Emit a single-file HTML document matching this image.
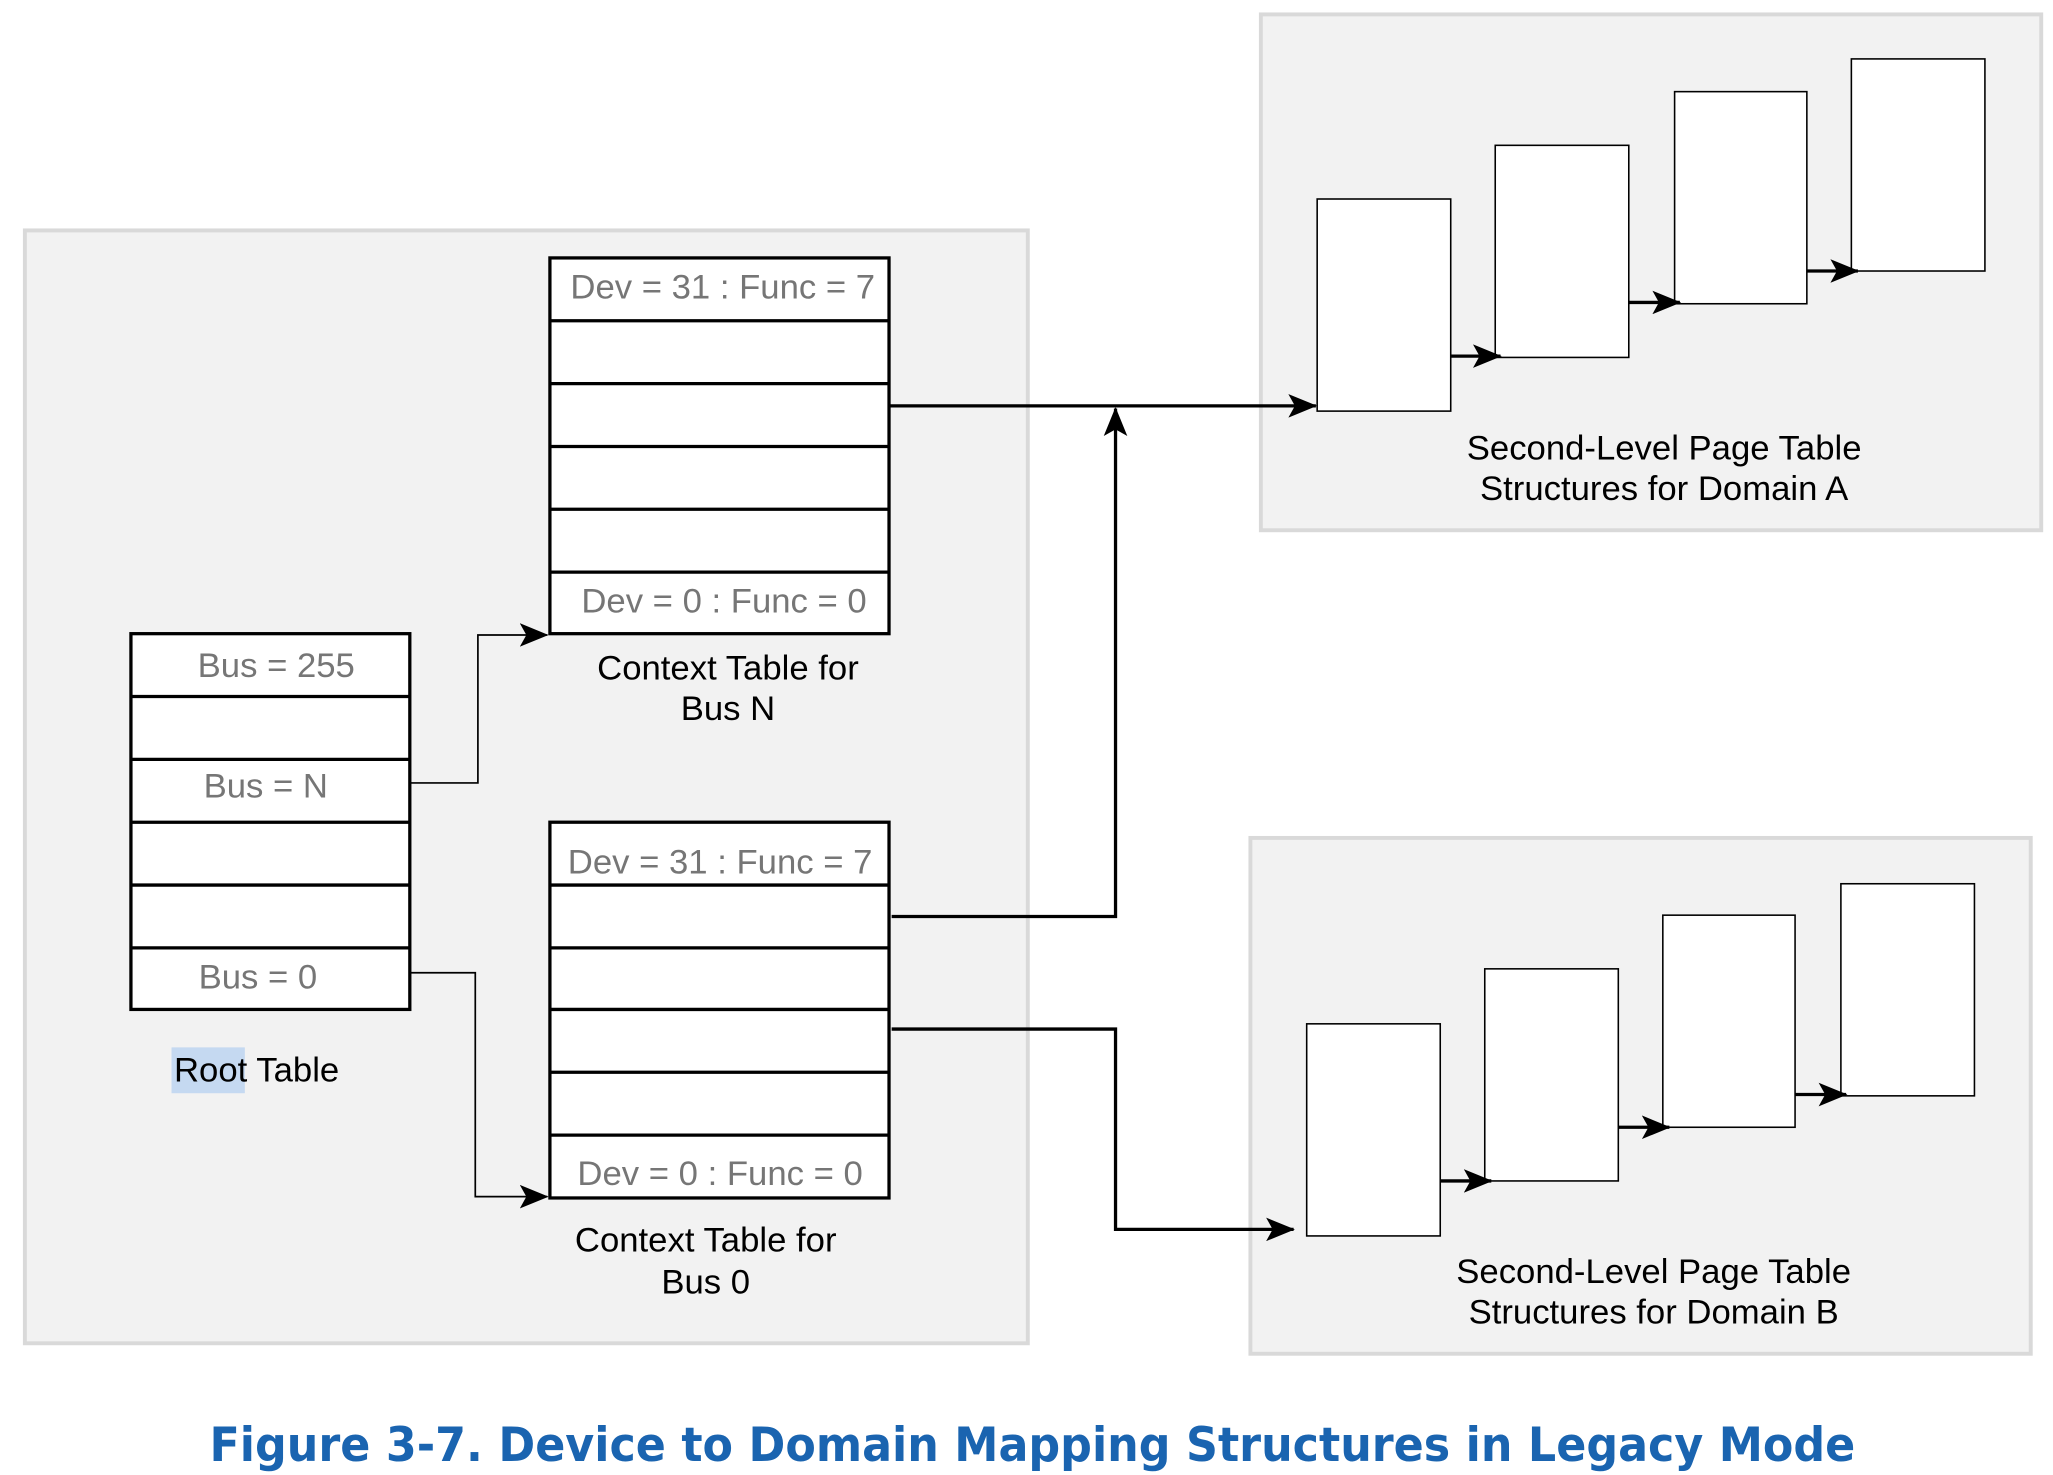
<!DOCTYPE html>
<html><head><meta charset="utf-8"><style>
html,body{margin:0;padding:0;background:#fff;}
svg{display:block;}
text{font-family:"Liberation Sans",sans-serif;}
</style></head><body>
<svg width="2053" height="1475" viewBox="0 0 1568 1126.6" preserveAspectRatio="none" xmlns="http://www.w3.org/2000/svg">
<defs>
<marker id="a2" markerWidth="22" markerHeight="18" refX="21" refY="9" orient="auto" markerUnits="userSpaceOnUse" viewBox="0 0 22 18">
<path d="M0,0 L22,9 L0,18 L5,9 z" fill="#000"/>
</marker>
</defs>
<rect x="0" y="0" width="1568" height="1127" fill="#fff"/>
<rect x="19" y="176" width="766" height="850" fill="#f2f2f2" stroke="#d9d9d9" stroke-width="3"/>
<rect x="963" y="11" width="596" height="394" fill="#f2f2f2" stroke="#d9d9d9" stroke-width="3"/>
<rect x="955" y="640" width="596" height="394" fill="#f2f2f2" stroke="#d9d9d9" stroke-width="3"/>

<g stroke="#000" stroke-width="2.5" fill="#fff">
<rect x="420" y="197" width="259" height="287"/>
<line x1="420" y1="245" x2="679" y2="245"/><line x1="420" y1="293" x2="679" y2="293"/>
<line x1="420" y1="341" x2="679" y2="341"/><line x1="420" y1="389" x2="679" y2="389"/>
<line x1="420" y1="437" x2="679" y2="437"/>
<rect x="420" y="628" width="259" height="287"/>
<line x1="420" y1="676" x2="679" y2="676"/><line x1="420" y1="724" x2="679" y2="724"/>
<line x1="420" y1="771" x2="679" y2="771"/><line x1="420" y1="819" x2="679" y2="819"/>
<line x1="420" y1="867" x2="679" y2="867"/>
<rect x="100" y="484" width="213" height="287"/>
<line x1="100" y1="532" x2="313" y2="532"/><line x1="100" y1="580" x2="313" y2="580"/>
<line x1="100" y1="628" x2="313" y2="628"/><line x1="100" y1="676" x2="313" y2="676"/>
<line x1="100" y1="724" x2="313" y2="724"/>
</g>
<g stroke="#000" stroke-width="1.2" fill="#fff">
<rect x="1006" y="152" width="102" height="162"/>
<rect x="1142" y="111" width="102" height="162"/>
<rect x="1279" y="70" width="101" height="162"/>
<rect x="1414" y="45" width="102" height="162"/>
<rect x="998" y="782" width="102" height="162"/>
<rect x="1134" y="740" width="102" height="162"/>
<rect x="1270" y="699" width="101" height="162"/>
<rect x="1406" y="675" width="102" height="162"/>
</g>
<g stroke="#000" fill="none">
<polyline stroke-width="1.3" points="313,598 365,598 365,485 418,485" marker-end="url(#a2)"/>
<polyline stroke-width="1.3" points="313,743 363,743 363,914 418,914" marker-end="url(#a2)"/>
<polyline stroke-width="2.5" points="679,310 1005,310" marker-end="url(#a2)"/>
<polyline stroke-width="2.5" points="681,700 852,700 852,312" marker-end="url(#a2)"/>
<polyline stroke-width="2.5" points="681,786 852,786 852,939 988,939" marker-end="url(#a2)"/>
<line stroke-width="2.5" x1="1108" y1="272" x2="1146" y2="272" marker-end="url(#a2)"/>
<line stroke-width="2.5" x1="1244" y1="231" x2="1283" y2="231" marker-end="url(#a2)"/>
<line stroke-width="2.5" x1="1380" y1="207" x2="1419" y2="207" marker-end="url(#a2)"/>
<line stroke-width="2.5" x1="1100" y1="902" x2="1139" y2="902" marker-end="url(#a2)"/>
<line stroke-width="2.5" x1="1236" y1="861" x2="1275" y2="861" marker-end="url(#a2)"/>
<line stroke-width="2.5" x1="1371" y1="836" x2="1410" y2="836" marker-end="url(#a2)"/>
</g>
<g fill="#767676" font-size="26.5" text-anchor="middle">
<text x="552" y="228">Dev = 31 : Func = 7</text>
<text x="553" y="468">Dev = 0 : Func = 0</text>
<text x="550" y="667">Dev = 31 : Func = 7</text>
<text x="550" y="905">Dev = 0 : Func = 0</text>
<text x="211" y="517">Bus = 255</text>
<text x="203" y="609">Bus = N</text>
<text x="197" y="755">Bus = 0</text>
</g>
<rect x="131" y="800" width="56" height="35" fill="#c5d9f1"/>
<g fill="#000" font-size="26.5" text-anchor="middle">
<text x="196" y="826">Root Table</text>
<text x="556" y="519">Context Table for</text>
<text x="556" y="550">Bus N</text>
<text x="539" y="956">Context Table for</text>
<text x="539" y="988">Bus 0</text>
<text x="1271" y="351">Second-Level Page Table</text>
<text x="1271" y="382">Structures for Domain A</text>
<text x="1263" y="980">Second-Level Page Table</text>
<text x="1263" y="1011">Structures for Domain B</text>
</g>
<text x="160" y="1116" fill="#1a64b0" font-size="36" font-weight="bold" style="font-family:'DejaVu Sans',sans-serif" textLength="1257" lengthAdjust="spacingAndGlyphs">Figure 3-7.  Device to Domain Mapping Structures in Legacy Mode</text>
</svg>
</body></html>
